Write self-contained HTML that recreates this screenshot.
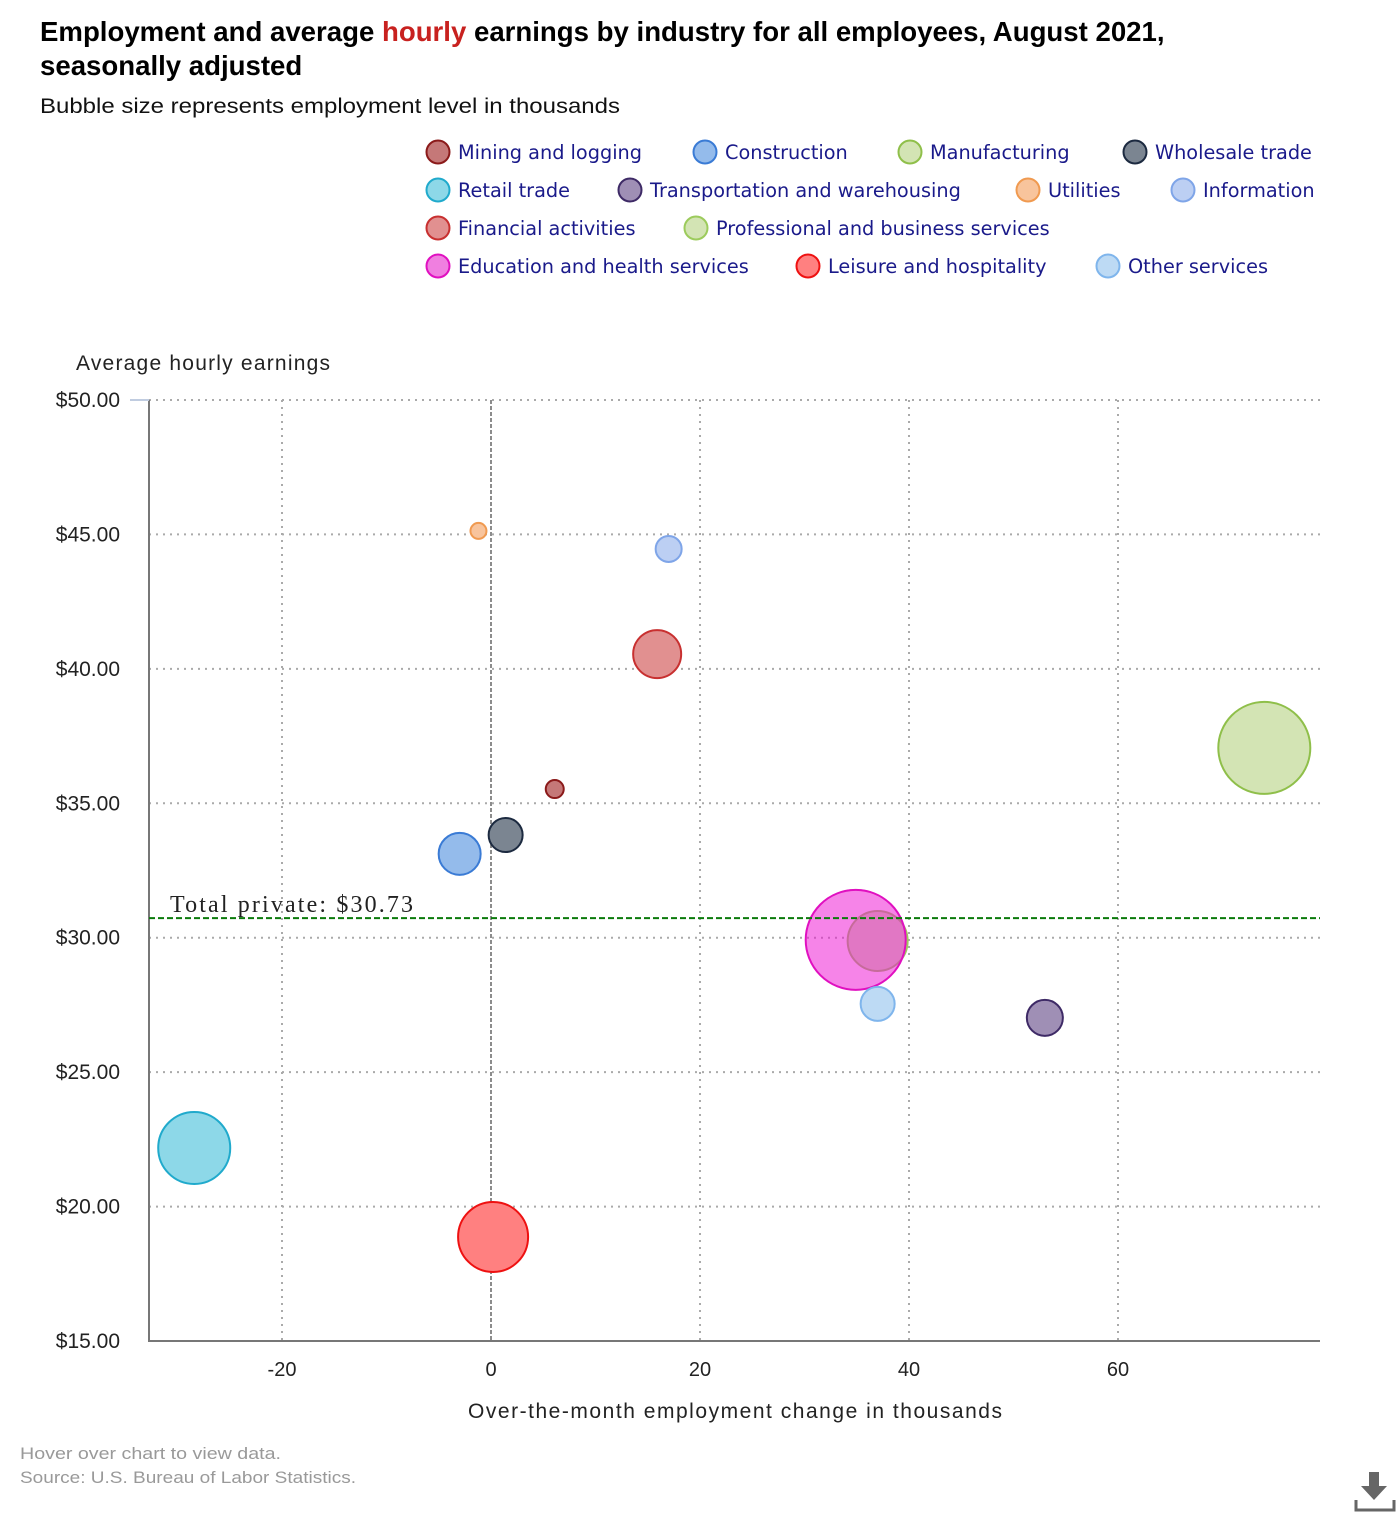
<!DOCTYPE html>
<html><head><meta charset="utf-8"><style>
body{margin:0;background:#fff;width:1400px;height:1520px;overflow:hidden;font-family:"Liberation Sans",sans-serif}
</style></head><body>
<div style="position:absolute;left:40px;top:15px;font-size:27.6px;font-weight:bold;color:#000;line-height:34px;width:1200px">Employment and average <span style="color:#c8211f">hourly</span> earnings by industry for all employees, August 2021,<br>seasonally adjusted</div>
<svg id="c" width="1400" height="1520" style="position:absolute;left:0;top:0" xmlns="http://www.w3.org/2000/svg"></svg>
<svg width="44" height="44" style="position:absolute;left:1354px;top:1470px"><path d="M15 2h10v14h8l-13 14-13-14h8z" fill="#666"/><path d="M2 30v10h38v-10" stroke="#666" stroke-width="3" fill="none"/></svg>
<script>
const names=["Mining and logging","Construction","Manufacturing","Wholesale trade","Retail trade","Transportation and warehousing","Utilities","Information","Financial activities","Professional and business services","Education and health services","Leisure and hospitality","Other services"];
const empChange=[6.1,-3.0,74.0,1.4,-28.4,53.0,-1.2,17.0,15.9,37.0,34.9,0.2,37.0];
const earnings=[35.53,33.12,37.06,33.82,22.18,27.02,45.13,44.46,40.55,29.88,29.92,18.87,27.54];
const employment=[769,4188,20094,2745,12308,3077,608,1605,5470,8547,23742,11633,2745];
const xTicks=[-20,0,20,40,60];
const yTicks=[15,20,25,30,35,40,45,50];
const totalPrivate=30.73;
const strokes=["#8b1a1a","#3a7bd5","#8fbf4a","#1c2a40","#20aacc","#3e2a66","#f09a50","#7fa5e8","#c83030","#9ccb5c","#e010c0","#ee1111","#7fb5ec"];
const fills=["#c57878","#94bbeb","#d3e4b4","#7b8591","#8dd8e8","#9f8fb5","#f8c49c","#bccff3","#e19090","#d3e4b4","rgba(238,20,210,0.52)","#ff8080","#bddaf4"];
const order=[9,0,1,2,3,4,5,6,7,8,10,11,12];
const S=document.getElementById('c'),NS="http://www.w3.org/2000/svg";
function mk(t,a,p){const e=document.createElementNS(NS,t);for(const k in a)e.setAttribute(k,a[k]);(p||S).appendChild(e);return e;}
const X0=149,X1=1320,Y0=400,Y1=1341;
const xs=v=>491+(v-0)*(700-491)/20;
const ys=v=>Y1-(v-15)*(Y1-Y0)/35;
const rs=v=>0.3245*Math.sqrt(v);
const st=mk('text',{x:40,y:113,'font-size':21,fill:'#111',textLength:580,lengthAdjust:'spacingAndGlyphs'});

st.textContent='Bubble size represents employment level in thousands';
const f1=mk('text',{x:20,y:1459,'font-size':17,fill:'#999',textLength:261,lengthAdjust:'spacingAndGlyphs'});

f1.textContent='Hover over chart to view data.';
const f2=mk('text',{x:20,y:1483,'font-size':17,fill:'#999',textLength:336,lengthAdjust:'spacingAndGlyphs'});

f2.textContent='Source: U.S. Bureau of Labor Statistics.';
const legPos=[[438,152],[705,152],[910,152],[1135,152],[438,190],[630,190],[1028,190],[1183,190],[438,228],[696,228],[438,266],[808,266],[1108,266]];
names.forEach((n,i)=>{
 const g=mk('g',{});
 
 
 mk('circle',{cx:legPos[i][0],cy:legPos[i][1],r:11.5,fill:i==10?"#f07fe0":fills[i],stroke:strokes[i],'stroke-width':2},g);
 const t=mk('text',{x:legPos[i][0]+20,y:legPos[i][1]+7,'font-size':19.3,fill:'#1a1a8a','font-family':'"DejaVu Sans","Liberation Sans",sans-serif'},g);
 t.textContent=n;
});
yTicks.forEach(v=>{
 const l=mk('line',{x1:X0,x2:X1,y1:ys(v),y2:ys(v),stroke:'#aaa','stroke-width':2,'stroke-dasharray':'2,5'});
 
 const t=mk('text',{x:120,y:ys(v)+7,'text-anchor':'end','font-size':21,fill:'#222'});
 
 t.textContent='$'+v.toFixed(2);
});
xTicks.forEach(v=>{
 if(v!==0){const l=mk('line',{x1:xs(v),x2:xs(v),y1:Y0,y2:Y1,stroke:'#aaa','stroke-width':2,'stroke-dasharray':'2,5'});
 }
 const t=mk('text',{x:xs(v),y:1376,'text-anchor':'middle','font-size':20,fill:'#222'});
 
 t.textContent=v;
});
const z=mk('line',{x1:xs(0),x2:xs(0),y1:Y0,y2:Y1,stroke:'#666','stroke-width':1.5,'stroke-dasharray':'4,2'});

const ax=mk('path',{d:`M${X0} ${Y0}V${Y1}H${X1}`,stroke:'#777','stroke-width':2,fill:'none'});

mk('line',{x1:130,x2:149,y1:Y0,y2:Y0,stroke:'#c0cce0','stroke-width':2});
order.forEach(i=>{
 const c=mk('circle',{cx:xs(empChange[i]),cy:ys(earnings[i]),r:rs(employment[i]),fill:fills[i],stroke:strokes[i],'stroke-width':2});
 
 
});
const tp=mk('line',{x1:X0,x2:X1,y1:ys(totalPrivate),y2:ys(totalPrivate),stroke:'#0a7a0a','stroke-width':2,'stroke-dasharray':'6,3'});

const tl=mk('text',{x:170,y:ys(totalPrivate)-6,'font-size':24,fill:'#222','font-family':'"Liberation Serif",serif',textLength:243});

tl.textContent='Total private: $'+totalPrivate.toFixed(2);
const yt=mk('text',{x:76,y:370,'font-size':21,fill:'#222',textLength:254});

yt.textContent='Average hourly earnings';
const xt=mk('text',{x:468,y:1418,'font-size':21,fill:'#222',textLength:534});

xt.textContent='Over-the-month employment change in thousands';
</script>
</body></html>
